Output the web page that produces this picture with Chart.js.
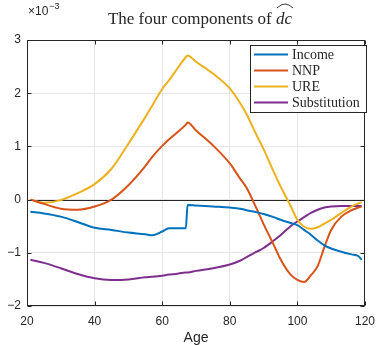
<!DOCTYPE html>
<html>
<head>
<meta charset="utf-8">
<script src="https://cdn.jsdelivr.net/npm/chart.js@4"></script>
<style>
  html, body { margin: 0; padding: 0; background: #fff; }
  #wrap { width: 383px; height: 345px; position: relative; }
</style>
</head>
<body>
<div id="wrap"><canvas id="chart"></canvas></div>
<script>
// ages (x) shared by every series, values are in units of 1e-3
const ages = [21, 25, 30, 35, 40, 45, 50, 55, 57, 60, 62, 64, 67, 67.5, 70, 75, 80, 83, 85, 88, 90, 93, 95, 98, 100, 102, 104, 106, 108, 110, 113, 116, 118, 119];
const income = [-0.23, -0.26, -0.32, -0.42, -0.53, -0.57, -0.62, -0.65, -0.67, -0.60, -0.54, -0.54, -0.54, -0.10, -0.11, -0.13, -0.15, -0.17, -0.20, -0.24, -0.27, -0.33, -0.38, -0.44, -0.48, -0.57, -0.66, -0.77, -0.86, -0.92, -0.98, -1.03, -1.06, -1.13];
const nnp = [0, -0.08, -0.17, -0.19, -0.13, 0.0, 0.27, 0.63, 0.80, 1.01, 1.13, 1.24, 1.41, 1.45, 1.30, 1.02, 0.68, 0.40, 0.22, -0.18, -0.46, -0.85, -1.12, -1.41, -1.51, -1.55, -1.42, -1.25, -0.89, -0.57, -0.32, -0.20, -0.15, -0.13];
const ure = [0, -0.06, -0.01, 0.12, 0.29, 0.58, 1.05, 1.55, 1.76, 2.08, 2.24, 2.42, 2.68, 2.71, 2.59, 2.37, 2.09, 1.82, 1.60, 1.20, 0.95, 0.52, 0.25, -0.12, -0.38, -0.51, -0.55, -0.52, -0.45, -0.38, -0.25, -0.13, -0.07, -0.05];
const substitution = [-1.13, -1.19, -1.29, -1.40, -1.48, -1.51, -1.50, -1.46, -1.45, -1.43, -1.41, -1.40, -1.37, -1.37, -1.34, -1.29, -1.22, -1.15, -1.08, -0.98, -0.91, -0.77, -0.67, -0.50, -0.41, -0.33, -0.25, -0.19, -0.15, -0.13, -0.12, -0.12, -0.12, -0.12];

const seriesNames = ['Income', 'NNP', 'URE', 'Substitution'];
const seriesColors = ['#0072BD', '#D95319', '#EDB120', '#7E2F8E'];
const xTicks = [20, 40, 60, 80, 100, 120];
const yTicks = [-2, -1, 0, 1, 2, 3];

const ink = '#262626';
const sans = '"Liberation Sans", Arial, sans-serif';
const serif = '"Liberation Serif", "Times New Roman", serif';

function pts(vals) {
    return ages.map(function (a, i) { return { x: a, y: vals[i] }; });
}

// zero line, box, inward ticks, title, exponent, x label, legend
const decor = {
    id: 'decor',
    beforeDatasetsDraw(chart) {
        const { ctx, chartArea: a, scales: { y } } = chart;
        const y0 = Math.round(y.getPixelForValue(0)) + 0.5;
        ctx.save();
        ctx.strokeStyle = ink;
        ctx.lineWidth = 1;
        ctx.beginPath();
        ctx.moveTo(a.left, y0);
        ctx.lineTo(a.right, y0);
        ctx.stroke();
        ctx.restore();
    },
    afterDraw(chart) {
        const { ctx, chartArea: a, scales: { x, y } } = chart;
        ctx.save();
        ctx.strokeStyle = ink;
        ctx.lineWidth = 1;
        const L = Math.round(a.left) + 0.5, R = Math.round(a.right) - 0.5;
        const T = Math.round(a.top) + 0.5, B = Math.round(a.bottom) - 0.5;
        ctx.strokeRect(L, T, R - L, B - T);
        ctx.beginPath();
        xTicks.forEach(function (v) {
            const px = Math.round(x.getPixelForValue(v)) + 0.5;
            ctx.moveTo(px, B); ctx.lineTo(px, B - 4);
            ctx.moveTo(px, T); ctx.lineTo(px, T + 4);
        });
        yTicks.forEach(function (v) {
            const py = Math.round(y.getPixelForValue(v)) + 0.5;
            ctx.moveTo(L, py); ctx.lineTo(L + 4, py);
            ctx.moveTo(R, py); ctx.lineTo(R - 4, py);
        });
        ctx.stroke();

        // title with a hat over dc
        ctx.fillStyle = ink;
        ctx.textBaseline = 'alphabetic';
        ctx.font = '17px ' + serif;
        const t1 = 'The four components of ';
        const w1 = ctx.measureText(t1).width;
        ctx.font = 'italic 17px ' + serif;
        const w2 = ctx.measureText('dc').width;
        let tx = 200 - (w1 + w2) / 2;
        ctx.font = '17px ' + serif;
        ctx.textAlign = 'left';
        ctx.fillText(t1, tx, 24);
        ctx.font = 'italic 17px ' + serif;
        ctx.fillText('dc', tx + w1, 24);
        const hx = tx + w1 + 1, hw = w2;
        ctx.beginPath();
        ctx.moveTo(hx, 8);
        ctx.quadraticCurveTo(hx + hw / 2, 0, hx + hw, 8);
        ctx.lineWidth = 0.9;
        ctx.stroke();

        // exponent label
        ctx.font = '12px ' + sans;
        ctx.fillText('\u00d710', 28, 15);
        const wx = ctx.measureText('\u00d710').width;
        ctx.font = '9px ' + sans;
        ctx.fillText('\u22123', 28 + wx + 1, 9);

        // x label
        ctx.font = '14px ' + sans;
        ctx.textAlign = 'center';
        ctx.fillText('Age', (a.left + a.right) / 2, 342);

        // legend
        const lx = 250.5, ly = 45.5, lw = 116, lh = 67;
        ctx.fillStyle = '#fff';
        ctx.fillRect(lx, ly, lw, lh);
        ctx.strokeStyle = ink;
        ctx.lineWidth = 1;
        ctx.strokeRect(lx, ly, lw, lh);
        ctx.font = '14px "Liberation Serif", serif';
        ctx.textAlign = 'left';
        ctx.textBaseline = 'middle';
        chart.data.datasets.forEach(function (ds, i) {
            const ry = 54.5 + i * 16;
            ctx.strokeStyle = ds.borderColor;
            ctx.lineWidth = 2;
            ctx.beginPath();
            ctx.moveTo(254, ry);
            ctx.lineTo(288, ry);
            ctx.stroke();
            ctx.fillStyle = ink;
            ctx.fillText(ds.label, 292, ry + 1);
        });
        ctx.restore();
    }
};

const ctx = document.getElementById('chart').getContext('2d');

new Chart(ctx, {
    type: 'line',
    data: {
        datasets: [
            { label: seriesNames[0], data: pts(income), borderColor: seriesColors[0] },
            { label: seriesNames[1], data: pts(nnp), borderColor: seriesColors[1] },
            { label: seriesNames[2], data: pts(ure), borderColor: seriesColors[2] },
            { label: seriesNames[3], data: pts(substitution), borderColor: seriesColors[3] }
        ]
    },
    options: {
        responsive: true,
        maintainAspectRatio: false,
        animation: false,
        layout: { padding: { top: 40, right: 11, left: 0, bottom: 0 } },
        elements: {
            point: { radius: 0 },
            line: { borderWidth: 2, cubicInterpolationMode: 'monotone', fill: false, borderJoinStyle: 'round' }
        },
        plugins: {
            legend: { display: false },
            title: { display: false },
            tooltip: { enabled: false }
        },
        scales: {
            x: {
                type: 'linear',
                min: 20,
                max: 120,
                afterFit: function (s) { s.height = 39; },
                afterBuildTicks: function (s) { s.ticks = xTicks.map(function (v) { return { value: v }; }); },
                grid: { color: '#e6e6e6', drawTicks: false },
                border: { display: false },
                ticks: { color: ink, font: { family: sans, size: 12 }, padding: 8, maxRotation: 0 }
            },
            y: {
                min: -2,
                max: 3,
                afterFit: function (s) { s.width = 27; },
                afterBuildTicks: function (s) { s.ticks = yTicks.map(function (v) { return { value: v }; }); },
                grid: { color: '#e6e6e6', drawTicks: false },
                border: { display: false },
                ticks: {
                    color: ink,
                    font: { family: sans, size: 12 },
                    padding: 6,
                    callback: function (v) { return String(v).replace('-', '\u2212'); }
                }
            }
        }
    },
    plugins: [decor]
});
</script>
</body>
</html>
